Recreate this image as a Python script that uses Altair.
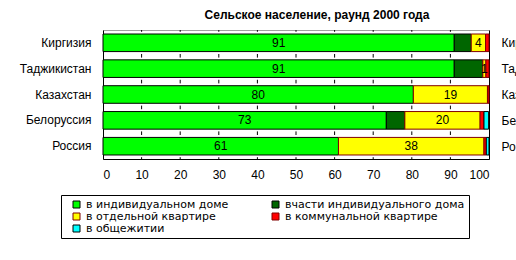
import altair as alt
import pandas as pd

countries = ["Киргизия", "Таджикистан", "Казахстан", "Белоруссия", "Россия"]
series = ["в индивидуальном доме", "вчасти индивидуального дома",
          "в отдельной квартире", "в коммунальной квартире", "в общежитии"]
individual = [91.0, 91.0, 80.4, 73.4, 61.0]
part_house = [4.4, 7.4, 0.0, 4.8, 0.0]
apartment = [3.7, 0.8, 19.2, 19.5, 37.7]
communal = [0.9, 0.8, 0.4, 1.0, 0.6]
dormitory = [0.0, 0.0, 0.0, 1.2, 0.7]
labeled_series = [series[0], series[2]]
fill_colors = ["#00ff00", "#006600", "#ffff00", "#ff0000", "#00ffff"]
stroke_colors = ["#000000", "#000000", "#800000", "#800000", "#000000"]
x_ticks = list(range(0, 101, 10))
inner_ticks = list(range(10, 100, 10))
row_boundaries = [0, 1, 2, 3, 4, 5]

FONT = "Liberation Sans"
LEGEND_FONT = "DejaVu Sans"
FS = 12

rows = []
values = [individual, part_house, apartment, communal, dormitory]
for i, c in enumerate(countries):
    start = 0.0
    for s, vals in zip(series, values):
        v = vals[i]
        if v > 0:
            rows.append(dict(country=c, series=s, start=start, end=start + v,
                             mid=start + v / 2,
                             label=str(round(v)) if s in labeled_series else ""))
        start += v
df = pd.DataFrame(rows)

# small tick marks at each row boundary (in row units)
tick_rows = []
for b in row_boundaries:
    lo = max(0.0, b - 0.07)
    hi = min(float(len(countries)), b + 0.07)
    for t in inner_ticks:
        tick_rows.append(dict(t=t, lo=lo, hi=hi))
tick_df = pd.DataFrame(tick_rows)

x_scale = alt.Scale(domain=[0, 100], nice=False)
x_axis = alt.Axis(values=x_ticks, grid=False, ticks=False, labelOverlap=False,
                  labelPadding=10, title=None, domainColor="black",
                  labelFontSize=FS, labelColor="black", labelFont=FONT)
y_scale = alt.Scale(paddingInner=0.32, paddingOuter=0.155)
y_axis = alt.Axis(ticks=False, labelPadding=12, domainColor="black",
                  labelFontSize=FS, labelColor="black", labelFont=FONT)

bars = alt.Chart(df).mark_bar(strokeWidth=1).encode(
    x=alt.X("start:Q", scale=x_scale, axis=x_axis),
    x2="end:Q",
    y=alt.Y("country:N", sort=countries, scale=y_scale, axis=y_axis, title=None),
    color=alt.Color("series:N", sort=series,
                    scale=alt.Scale(domain=series, range=fill_colors),
                    legend=alt.Legend(title=None, orient="none", legendX=-42, legendY=165,
                                      columns=2, direction="horizontal",
                                      symbolType="square", symbolSize=49,
                                      symbolStrokeColor="black", symbolStrokeWidth=1,
                                      labelFontSize=11, labelFont=LEGEND_FONT,
                                      labelColor="black",
                                      padding=4, strokeColor="black", fillColor="white",
                                      rowPadding=0, columnPadding=35, symbolOffset=6,
                                      labelLimit=300)),
    stroke=alt.Stroke("series:N", scale=alt.Scale(domain=series, range=stroke_colors),
                      legend=None),
)

text = alt.Chart(df).transform_filter("datum.label != ''").mark_text(
    fontSize=FS, color="black", font=FONT).encode(
    x=alt.X("mid:Q", scale=x_scale, axis=x_axis),
    y=alt.Y("country:N", sort=countries, scale=y_scale, axis=y_axis, title=None),
    text="label:N",
)

ticks = alt.Chart(tick_df).mark_rule(color="black", strokeWidth=1, opacity=1).encode(
    x=alt.X("t:Q", scale=x_scale, axis=x_axis),
    y=alt.Y("lo:Q", scale=alt.Scale(domain=[0, len(countries)], reverse=True, nice=False,
                                    zero=False), axis=None),
    y2="hi:Q",
)

chart = alt.layer(bars, text, ticks).resolve_scale(y="independent").properties(
    width=386, height=129,
    autosize=alt.AutoSizeParams(type="none"),
    padding={"left": 103, "top": 30, "right": 27, "bottom": 101},
    title=alt.TitleParams("Сельское население, раунд 2000 года", fontSize=12, font=FONT,
                          fontWeight="bold", anchor="middle", dx=21, offset=8,
                          color="black"),
).configure_view(stroke="#a0a0a0", strokeWidth=1)

chart.save("out.html", embed_options={"renderer": "svg", "actions": False})
